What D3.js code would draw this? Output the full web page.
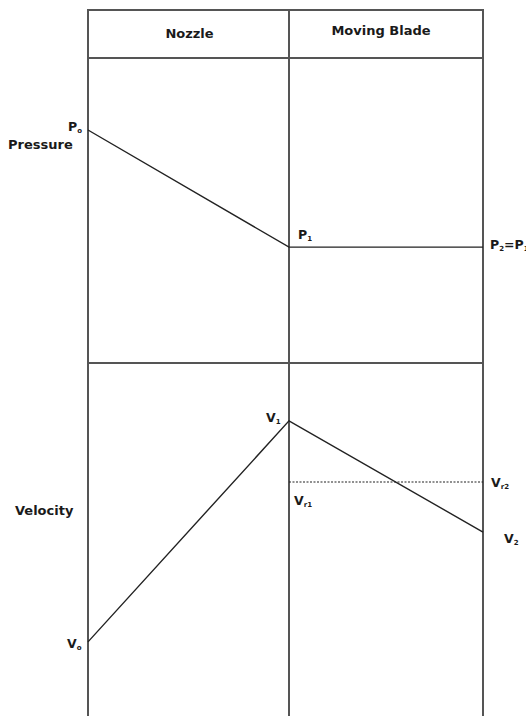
<!DOCTYPE html>
<html>
<head>
<meta charset="utf-8">
<script src="https://cdn.jsdelivr.net/npm/d3@7"></script>
<style>
  body { margin: 0; background: #fff; }
  text { font-family: "DejaVu Sans", Verdana, sans-serif; font-weight: bold; fill: #1a1a1a; }
  .frame { stroke: #555; stroke-width: 2; fill: none; }
  .line { stroke: #222; stroke-width: 1.4; fill: none; }
</style>
</head>
<body>
<script>
// stages across the diagram: 0 = nozzle inlet, 1 = nozzle exit / blade inlet, 2 = blade exit
var columns = ["Nozzle", "Moving Blade"];
var stages = [0, 1, 2];
var rows = ["Pressure", "Velocity"];

// pressure (arbitrary units, 0-100 in its panel)
var pressure = [76.4, 38.0, 38.0];
// absolute velocity
var velocity = [21.0, 83.6, 52.1];
// relative velocity through the blade (Vr1 = Vr2)
var relVelocity = [66.3, 66.3];

var window_w = 526, window_h = 716;

var xScale = d3.scaleLinear().domain([0, 1, 2]).range([88, 289, 483]);
var headTop = 10, headBottom = 58, midY = 363, bottomY = 716;

var pScale = d3.scaleLinear().domain([0, 100]).range([midY, headBottom]);
var vScale = d3.scaleLinear().domain([0, 100]).range([bottomY, midY]);

var svg = d3.select("body").append("svg")
    .attr("width", window_w)
    .attr("height", window_h);

// frame
var g = svg.append("g");
stages.forEach(function(s) {
  g.append("line").attr("class", "frame")
    .attr("x1", xScale(s)).attr("x2", xScale(s))
    .attr("y1", headTop - 1).attr("y2", bottomY);
});
[headTop, headBottom, midY].forEach(function(y) {
  g.append("line").attr("class", "frame")
    .attr("x1", xScale(0)).attr("x2", xScale(2))
    .attr("y1", y).attr("y2", y);
});

// column headers
g.append("text").attr("x", (xScale(0) + xScale(1)) / 2 + 1).attr("y", 38)
  .style("font-size", "13px").style("text-anchor", "middle").text(columns[0]);
g.append("text").attr("x", (xScale(1) + xScale(2)) / 2 - 5).attr("y", 35)
  .style("font-size", "13px").style("text-anchor", "middle").text(columns[1]);

// row labels
g.append("text").attr("x", 8).attr("y", 149).style("font-size", "13px").text(rows[0]);
g.append("text").attr("x", 15).attr("y", 515).style("font-size", "13px").text(rows[1]);

// pressure line
var pLine = d3.line()
    .x(function(d, i) { return xScale(stages[i]); })
    .y(function(d) { return pScale(d); });
g.append("path").attr("class", "line").attr("d", pLine(pressure));

// velocity line
var vLine = d3.line()
    .x(function(d, i) { return xScale(stages[i]); })
    .y(function(d) { return vScale(d); });
g.append("path").attr("class", "line").attr("d", vLine(velocity));

// relative velocity (dotted)
g.append("path").attr("class", "line")
  .style("stroke-width", 1.1)
  .style("stroke-dasharray", "2,1.5")
  .attr("d", d3.line()
    .x(function(d, i) { return xScale(stages[i + 1]); })
    .y(function(d) { return vScale(d); })(relVelocity));

// labels with subscripts
function label(x, y, main, sub, extra) {
  var t = g.append("text").attr("x", x).attr("y", y).style("font-size", "12.5px");
  t.append("tspan").text(main);
  t.append("tspan").attr("dy", 2).style("font-size", "7px").text(sub);
  if (extra) {
    t.append("tspan").attr("dy", -2).style("font-size", "12.5px").text(extra[0]);
    t.append("tspan").attr("dy", 2).style("font-size", "7px").text(extra[1]);
  }
}

label(xScale(0) - 20, pScale(pressure[0]) + 1, "P", "o");
label(xScale(1) + 9, pScale(pressure[1]) - 8, "P", "1");
label(xScale(2) + 7, pScale(pressure[2]) + 2, "P", "2", ["=P", "1"]);

label(xScale(1) - 23, vScale(velocity[1]) + 1, "V", "1");
label(xScale(2) + 21, vScale(velocity[2]) + 11, "V", "2");
label(xScale(0) - 21, vScale(velocity[0]) + 6, "V", "o");
label(xScale(1) + 5, vScale(relVelocity[0]) + 23, "V", "r1");
label(xScale(2) + 8, vScale(relVelocity[1]) + 5, "V", "r2");
</script>
</body>
</html>
